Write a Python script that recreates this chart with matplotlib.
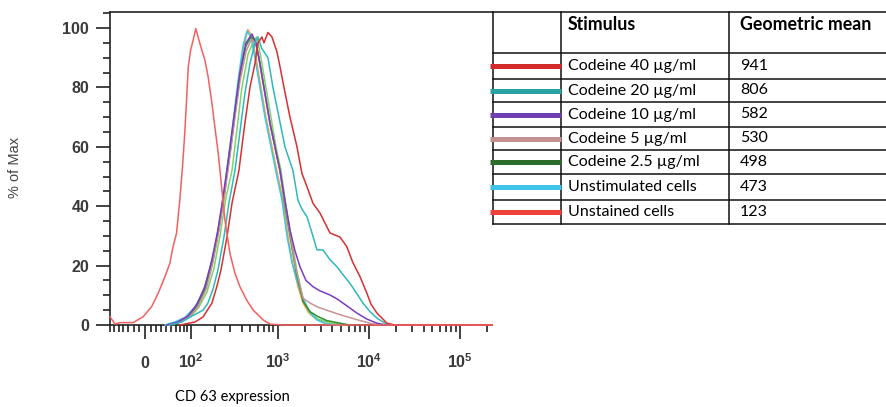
import matplotlib
matplotlib.use('Agg')
import matplotlib.pyplot as plt

plt.rcParams['font.family'] = ['Liberation Sans', 'DejaVu Sans']
plt.rcParams['mathtext.fontset'] = 'custom'
plt.rcParams['mathtext.rm'] = 'Liberation Sans'
plt.rcParams['mathtext.bf'] = 'Liberation Sans:bold'
plt.rcParams['mathtext.it'] = 'Liberation Sans'

# histogram traces: (CD63 intensity, % of max)
unstained_x = [-70, -58, -47, -21, -3, 12, 24, 37, 47, 54, 62, 70, 77, 83, 88, 93, 100, 108, 117,
               132, 152, 166, 182, 199, 218, 238, 260, 296, 337, 383, 455, 538, 694, 823, 1152, 225000]
unstained_y = [2.8, 0.3, 0.8, 0.8, 2.8, 6.2, 10.7, 16.3, 20.7, 26.3, 30.8, 42, 53.3, 64.5, 75.7, 86.9, 92.5, 95.9, 99.8,
               94.7, 89.1, 83.5, 75.7, 66.7, 57.7, 46.5, 35.3, 24.1, 17.4, 12.9, 8.4, 5, 1.7, 0.3, 0, 0]

unstim_x = [37, 58, 83, 114, 144, 174, 205, 240, 281, 320, 364, 414, 458, 508, 562, 638, 725, 844, 982,
            1116, 1266, 1437, 1630, 1850, 2099, 2382, 2703, 3462, 4835]
unstim_y = [0, 1, 2.5, 6, 11, 19, 28, 40, 55, 68, 82, 94, 99, 97, 90, 80, 70, 60, 50,
            42, 30, 21, 15, 10, 6, 3.5, 1.7, 0.3, 0]

c25_x = [43, 70, 98, 124, 157, 189, 222, 260, 296, 337, 383, 447, 508, 562, 622, 706, 823, 934, 1061,
         1204, 1366, 1590, 1898, 2265, 2703, 3462, 4482, 6225]
c25_y = [0, 1, 3, 7, 13, 22, 33, 46, 58, 71, 84, 94, 97, 96, 90, 80, 68, 60, 52,
         40, 30, 18, 8, 4.5, 3, 1.5, 0.8, 0]

c5_x = [43, 70, 98, 124, 157, 189, 222, 260, 296, 337, 383, 447, 508, 577, 638, 725, 823, 934, 1061,
        1204, 1366, 1590, 1898, 2265, 2773, 3462, 4482, 5740, 7424, 10320, 13288]
c5_y = [0, 1, 3, 6, 12, 21, 32, 45, 57, 70, 82, 92, 96, 95, 88, 78, 68, 60, 52,
        41, 31, 19, 9, 7.4, 6, 5, 3.8, 2.8, 1.8, 0.6, 0]

c10_x = [41, 65, 92, 121, 152, 184, 216, 253, 288, 328, 383, 447, 521, 577, 638, 725, 823, 934, 1061,
         1204, 1366, 1550, 1759, 2047, 2443, 2916, 3755, 4482, 5202, 6225, 7424, 9542, 12316, 15464]
c10_y = [0, 1, 3, 7, 13, 22, 32, 45, 57, 70, 85, 95, 98, 95, 88, 78, 68, 60, 52,
         42, 32, 25, 19.6, 15, 12.9, 11.5, 10.1, 8.8, 7.4, 5.7, 4, 2, 0.6, 0]

c20_x = [47, 75, 104, 144, 165, 189, 216, 253, 288, 337, 383, 435, 495, 562, 607, 671, 782, 888, 1034,
         1204, 1366, 1473, 1672, 1850, 2099, 2382, 2703, 3138, 3755, 4482, 5202, 6225, 7424, 8624,
         10320, 12316, 15078, 17996]
c20_y = [0, 1, 3, 5, 7.4, 12, 18.5, 29.6, 41, 52, 65, 78, 88, 95, 97, 93, 90, 80, 70,
         60, 55, 52, 42, 39, 36.5, 31, 25.3, 25.3, 22, 19.6, 17, 14, 10.5, 7.4,
         4.5, 2.3, 0.6, 0]

c40_x = [70, 114, 144, 184, 210, 234, 274, 312, 373, 435, 495, 562, 607, 671, 706, 782, 866, 982, 1061,
         1174, 1366, 1630, 1850, 2099, 2443, 2916, 3755, 4835, 5740, 6697, 8015, 9542, 10584, 12316,
         15860, 19414, 225000]
c40_y = [0, 1, 2.7, 7.4, 13, 18.5, 29.6, 41, 52, 68, 80, 88, 95, 97, 95, 98.5, 97, 92, 87,
         80, 70, 60, 51, 46.6, 41, 37.7, 31, 29.6, 26.4, 21, 16.3, 10.7, 7, 4,
         0.6, 0, 0]

# two extra overlay traces that have no row in the table
orange_x = [39, 63, 90, 117, 148, 178, 210, 247, 288, 328, 373, 424, 470, 521, 577, 654, 743, 866, 1008,
            1145, 1298, 1473, 1672, 1898, 2210, 2636, 3462, 4835]
orange_y = [0, 1, 2.5, 6, 11, 19, 28, 40, 55, 68, 82, 94, 99.5, 97, 90, 80, 70, 60, 50,
            42, 30, 20, 13, 7.5, 4, 2, 0.5, 0]
lgreen_x = [45, 73, 101, 128, 160, 194, 228, 267, 312, 355, 403, 470, 548, 592, 654, 743, 844, 958, 1088,
            1235, 1401, 1630, 1898, 2265, 2773, 3755, 5486]
lgreen_y = [0, 1, 3, 6, 11, 19, 30, 43, 52, 66, 80, 91, 96, 97, 90, 80, 70, 60, 52,
            40, 30, 18, 9, 4, 2, 0.7, 0]

stimulus = ['Codeine 40 µg/ml', 'Codeine 20 µg/ml', 'Codeine 10 µg/ml', 'Codeine 5 µg/ml',
            'Codeine 2.5 µg/ml', 'Unstimulated cells', 'Unstained cells']
geo_mean = ['941', '806', '582', '530', '498', '473', '123']
legend_colors = ['#d42a2a', '#27a3a3', '#7040b0', '#c49090', '#2b6e2b', '#3ec3ea', '#f0403c']

fig = plt.figure(figsize=(8.86, 4.07), dpi=100)
ax = fig.add_axes([110 / 886, 82 / 407, 382 / 886, 313 / 407])

ax.set_xscale('asinh', linear_width=70)
lw = 1.1
ax.plot(orange_x, orange_y, color='#f5a040', lw=lw, zorder=3, clip_on=False)
ax.plot(lgreen_x, lgreen_y, color='#7ed36a', lw=lw, zorder=3, clip_on=False)
ax.plot(unstim_x, unstim_y, color='#38c8f0', lw=lw, zorder=3, clip_on=False)
ax.plot(c25_x, c25_y, color='#2f8f2f', lw=lw, zorder=3, clip_on=False)
ax.plot(c5_x, c5_y, color='#c89494', lw=lw, zorder=3, clip_on=False)
ax.plot(c10_x, c10_y, color='#7a3cc0', lw=lw, zorder=3, clip_on=False)
ax.plot(c20_x, c20_y, color='#30b8bb', lw=lw, zorder=3, clip_on=False)
ax.plot(c40_x, c40_y, color='#d83030', lw=lw, zorder=3, clip_on=False)
ax.plot(unstained_x, unstained_y, color='#f46060', lw=lw, zorder=3, clip_on=False)

ax.set_xlim(-70, 225000)
ax.set_ylim(0, 105.4)

ax.set_xticks([0, 100, 1000, 10000, 100000],
              labels=[r'$\mathbf{0}$', r'$\mathbf{10^{2}}$', r'$\mathbf{10^{3}}$',
                      r'$\mathbf{10^{4}}$', r'$\mathbf{10^{5}}$'])
minors = [-v for v in range(10, 80, 10)] + list(range(10, 100, 10))
minors += [k * 10 ** d for d in (2, 3, 4) for k in range(2, 10)] + [200000]
ax.set_xticks(minors, minor=True)
ax.xaxis.set_minor_formatter(matplotlib.ticker.NullFormatter())
ax.set_yticks(range(0, 101, 20))
ax.set_yticks(range(0, 106, 5), minor=True)

ax.tick_params(axis='both', which='major', length=10, width=1.2, color='#222',
               labelsize=11.5, labelcolor='#3a3a3a')
ax.tick_params(axis='both', which='minor', length=5, width=1.2, color='#222')
ax.tick_params(axis='x', which='major', pad=21)
ax.tick_params(axis='y', which='major', pad=5)
for t in ax.get_xticklabels():
    t.set_va('baseline')
for t in ax.get_yticklabels():
    t.set_fontweight('bold')

for side in ['left', 'bottom', 'top']:
    ax.spines[side].set_linewidth(1.2)
    ax.spines[side].set_color('#222')
ax.spines['right'].set_visible(False)

fig.text(15 / 886, 1 - 167 / 407, '% of Max', rotation=90, ha='center', va='center',
         fontsize=10.5, color='#444', family=['Liberation Sans Narrow', 'Liberation Sans'])
fig.text(232 / 886, 1 - 397 / 407, 'CD 63 expression', ha='center', va='center',
         fontsize=10.5, family='Lato')

# table with the colour key on the right
tab = fig.add_axes([0, 0, 1, 1])
tab.set_xlim(0, 886)
tab.set_ylim(407, 0)
tab.axis('off')
col_edges = [493, 561, 729]
row_edges = [12, 53, 79, 102, 127, 150, 174, 200, 224]
for xe in col_edges:
    tab.plot([xe, xe], [row_edges[0], row_edges[-1]], color='#111', lw=1.1)
for ye in row_edges:
    tab.plot([col_edges[0], 886], [ye, ye], color='#111', lw=1.1)

tab.text(568, 24, 'Stimulus', fontsize=12.8, fontweight='bold', family='Lato', va='center')
tab.text(740, 24, 'Geometric mean', fontsize=12.8, fontweight='bold', family='Lato', va='center')
for i, (name, gm, col) in enumerate(zip(stimulus, geo_mean, legend_colors)):
    yc = (row_edges[i + 1] + row_edges[i + 2]) / 2
    tab.plot([490, 561], [yc, yc], color=col, lw=3.6, solid_capstyle='butt')
    tab.text(568, yc, name, fontsize=11.5, family='Lato', va='center')
    tab.text(740, yc, gm, fontsize=11.5, family='Lato', va='center')

fig.savefig('out.png', dpi=100)
